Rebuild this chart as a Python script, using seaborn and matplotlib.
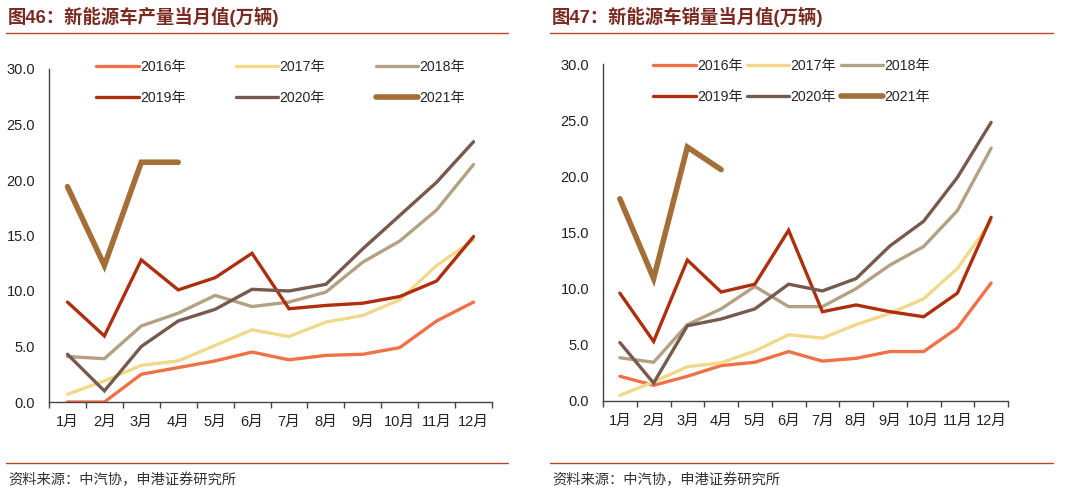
import numpy as np
import pandas as pd
import matplotlib
matplotlib.use("Agg")
import matplotlib.pyplot as plt
import seaborn as sns
from matplotlib.lines import Line2D

sns.set_theme(style="white")
plt.rcParams['font.family'] = ['Liberation Sans', 'Noto Sans CJK SC', 'DejaVu Sans']

months = ["1月", "2月", "3月", "4月", "5月", "6月", "7月", "8月", "9月", "10月", "11月", "12月"]
years = ["2016年", "2017年", "2018年", "2019年", "2020年", "2021年"]

prod_2016 = [0.0, 0.0, 2.5, 3.1, 3.7, 4.5, 3.8, 4.2, 4.3, 4.9, 7.3, 9.0]
prod_2017 = [0.7, 1.9, 3.3, 3.7, 5.1, 6.5, 5.9, 7.2, 7.8, 9.2, 12.3, 14.6]
prod_2018 = [4.1, 3.9, 6.85, 8.0, 9.6, 8.6, 9.0, 9.9, 12.6, 14.5, 17.3, 21.4]
prod_2019 = [9.0, 5.95, 12.8, 10.1, 11.2, 13.4, 8.4, 8.7, 8.9, 9.5, 10.9, 14.9]
prod_2020 = [4.3, 1.0, 5.0, 7.3, 8.35, 10.15, 10.0, 10.6, 13.8, 16.8, 19.8, 23.45]
prod_2021 = [19.4, 12.3, 21.6, 21.6]

sales_2016 = [2.2, 1.4, 2.2, 3.15, 3.45, 4.4, 3.55, 3.8, 4.4, 4.4, 6.5, 10.5]
sales_2017 = [0.5, 1.7, 3.05, 3.4, 4.45, 5.9, 5.6, 6.8, 7.8, 9.1, 11.8, 16.0]
sales_2018 = [3.85, 3.45, 6.8, 8.2, 10.2, 8.4, 8.4, 10.0, 12.1, 13.75, 16.95, 22.5]
sales_2019 = [9.6, 5.3, 12.55, 9.7, 10.4, 15.2, 7.95, 8.55, 7.95, 7.5, 9.6, 16.35]
sales_2020 = [5.2, 1.6, 6.7, 7.3, 8.2, 10.4, 9.8, 10.9, 13.8, 16.0, 19.9, 24.8]
sales_2021 = [18.0, 10.9, 22.6, 20.6]

colors = ["#F07148", "#F0D98A", "#B3A184", "#AE2F0E", "#765A4E", "#A36F37"]
widths = [2.4, 2.4, 2.4, 2.4, 2.4, 4.0]

title_color = "#7A2A20"
rule_color = "#B5472F"

fig = plt.figure(figsize=(10.8, 4.95), dpi=100)
W, H = 1080.0, 495.0


def make_axes(x0, x1, ytop, ybot):
    return fig.add_axes([x0 / W, 1 - ybot / H, (x1 - x0) / W, (ybot - ytop) / H])


ax1 = make_axes(49, 492, 69, 402)
ax2 = make_axes(603, 1008, 64, 401)

prod = [prod_2016, prod_2017, prod_2018, prod_2019, prod_2020, prod_2021]
sales = [sales_2016, sales_2017, sales_2018, sales_2019, sales_2020, sales_2021]


def draw(ax, series, leg_anchor, colspacing):
    for name, vals, c, lw in zip(years, series, colors, widths):
        df = pd.DataFrame({"x": np.arange(len(vals)), "y": vals})
        sns.lineplot(data=df, x="x", y="y", ax=ax, color=c, linewidth=lw,
                     label=name, solid_capstyle="round", solid_joinstyle="miter")
    ax.set_xlim(-0.5, 11.5)
    ax.set_ylim(0, 30)
    ax.set_yticks([0, 5, 10, 15, 20, 25, 30])
    ax.set_yticklabels([f"{v:.1f}" for v in [0, 5, 10, 15, 20, 25, 30]])
    ax.set_xticks(np.arange(12))
    ax.set_xticklabels(months)
    ax.set_xticks(np.arange(-0.5, 12.0, 1.0), minor=True)
    ax.tick_params(axis="x", which="major", length=0, pad=9, labelsize=10.5, colors="#222222")
    ax.tick_params(axis="x", which="minor", length=4, width=1, direction="out", color="#444444", bottom=True)
    ax.tick_params(axis="y", which="major", length=0, pad=10, labelsize=10.5, colors="#222222")
    ax.set_xlabel("")
    ax.set_ylabel("")
    for s in ["top", "right"]:
        ax.spines[s].set_visible(False)
    for s in ["left", "bottom"]:
        ax.spines[s].set_color("#444444")
        ax.spines[s].set_linewidth(1.0)
    ax.set_facecolor("white")
    handles, labels = ax.get_legend_handles_labels()
    order = [0, 3, 1, 4, 2, 5]
    ax.legend([handles[i] for i in order], [labels[i] for i in order],
              ncol=3, loc="upper left", bbox_to_anchor=leg_anchor, bbox_transform=fig.transFigure,
              frameon=False, fontsize=10.2, handlelength=3.0, handletextpad=0.1,
              columnspacing=colspacing, labelspacing=1.2, borderpad=0, borderaxespad=0)


draw(ax1, prod, (96 / W, 1 - 60 / H), 3.55)
draw(ax2, sales, (653 / W, 1 - 59 / H), 0.3)

# headers
fig.text(8 / W, 1 - 17 / H, "图46：新能源车产量当月值(万辆)", fontsize=13.2, fontweight="bold",
         color=title_color, va="center", ha="left")
fig.text(552 / W, 1 - 17 / H, "图47：新能源车销量当月值(万辆)", fontsize=13.2, fontweight="bold",
         color=title_color, va="center", ha="left")
for (a, b) in [(6, 508), (550, 1053)]:
    fig.add_artist(Line2D([a / W, b / W], [1 - 33 / H, 1 - 33 / H], color=rule_color, lw=1.0))
    fig.add_artist(Line2D([a / W, b / W], [1 - 463 / H, 1 - 463 / H], color=rule_color, lw=1.0))

fig.text(8 / W, 1 - 480 / H, "资料来源：中汽协，申港证券研究所", fontsize=10.3, color="#333333",
         va="center", ha="left", style="italic")
fig.text(552 / W, 1 - 480 / H, "资料来源：中汽协，申港证券研究所", fontsize=10.3, color="#333333",
         va="center", ha="left", style="italic")

fig.savefig("out.png", dpi=100, facecolor="white")
